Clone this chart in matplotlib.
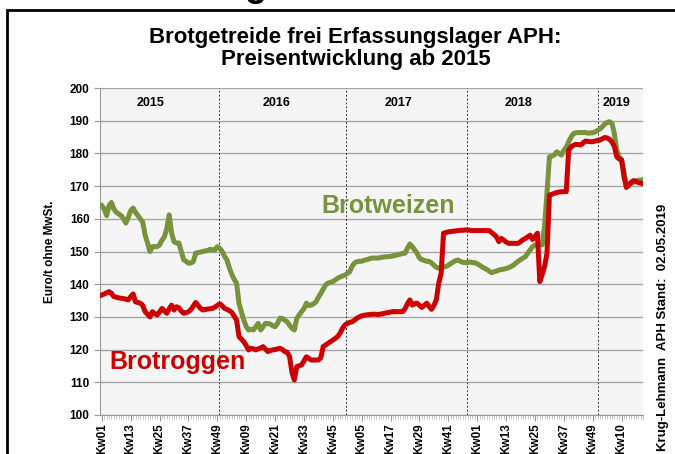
import matplotlib
matplotlib.use("Agg")
import matplotlib.pyplot as plt
from matplotlib.patches import Rectangle

plt.rcParams["font.family"] = ["Liberation Sans", "DejaVu Sans"]

# weekly prices, Euro/t, Kw01 2015 .. Kw17 2019 (index = week counter)
weizen = [
    164, 163, 161, 164, 165, 163, 162, 161.5, 161, 160,
    158.7, 160.5, 162.5, 163.3, 162, 161, 160, 159, 155, 152.6,
    150, 151.5, 151.5, 151.5, 152, 153.5, 154.5, 157, 161.2, 155.6,
    153, 152.6, 152.6, 150, 147.5, 147, 146.4, 146.5, 146.9, 149.5,
    149.7, 149.8, 150, 150.2, 150.3, 150.7, 150.5, 150.5, 151.5, 151,
    150, 148.5, 147.4, 145, 143, 141.5, 140.3, 134.2, 131.5, 129,
    127, 126, 126.2, 126, 127, 128, 126, 127, 128, 128,
    127.8, 127.3, 127, 128, 129.6, 129.5, 129, 128.5, 127.5, 126.5,
    126, 129.5, 130.6, 131.6, 132.5, 134.2, 133.5, 133.6, 134, 134.6,
    136, 137.2, 138.5, 139.8, 140.3, 140.6, 140.8, 141.3, 141.8, 142.2,
    142.5, 142.8, 143.3, 143.8, 145.5, 146.5, 146.9, 147, 147, 147.3,
    147.5, 147.7, 148, 148, 148, 148, 148.2, 148.3, 148.4, 148.4,
    148.5, 148.7, 148.8, 149, 149.2, 149.4, 149.5, 151, 152.3, 151.5,
    150.5, 149.5, 148, 147.5, 147.3, 147, 147, 146.5, 145.8, 145.2,
    144.9, 145, 145.2, 145.4, 145.8, 146.3, 146.8, 147.2, 147.4, 147,
    146.7, 146.6, 146.6, 146.8, 146.6, 146.6, 146.2, 145.8, 145.3, 144.9,
    144.5, 144, 143.5, 143.8, 144, 144.3, 144.5, 144.6, 144.8, 145,
    145.4, 145.8, 146.4, 147, 147.5, 148, 148.4, 149.5, 150.5, 151.5,
    152, 152, 152, 152, 158, 168, 179, 179.2, 179.5, 180.5,
    180, 179.5, 181, 181.8, 183.6, 185, 186.1, 186.3, 186.4, 186.4,
    186.4, 186.4, 186.2, 186.3, 186.3, 186.6, 187, 187.5, 188.2, 189,
    189.5, 189.7, 189.2, 186, 181, 179, 178, 174, 169.8, 170.2,
    170.8, 171.2, 171.6, 171.8, 171.9,
]
roggen = [
    136.7, 137, 137.4, 137.7, 137.2, 136.2, 136, 135.8, 135.7, 135.6,
    135.4, 135.2, 136.2, 137, 134.6, 134.4, 134.2, 133.5, 131.6, 130.8,
    130, 131.6, 131, 130.6, 131.5, 132.6, 131.8, 131.1, 132.5, 133.6,
    132.1, 133.1, 132.8, 131.8, 131.1, 131.3, 131.6, 132.2, 133.3, 134.4,
    133.5, 132.6, 132.1, 132.3, 132.4, 132.5, 132.6, 133, 133.5, 134,
    133.4, 132.6, 132.3, 131.9, 131.4, 130.2, 129, 124, 123.2, 122.4,
    121.2, 119.9, 120.4, 120.2, 119.9, 120.2, 120.5, 120.9, 120.1, 119.4,
    119.7, 119.9, 120, 120.2, 120.4, 120, 119.4, 119.2, 117.9, 113,
    110.7, 114.8, 115, 115.3, 116.5, 117.8, 117.3, 116.8, 116.8, 116.8,
    116.8, 117.5, 120.9, 121.4, 121.9, 122.4, 122.9, 123.4, 124, 125,
    126.5, 127.5, 128, 128.3, 128.5, 129, 129.6, 130, 130.3, 130.5,
    130.6, 130.7, 130.8, 130.8, 130.8, 130.7, 130.9, 131, 131.2, 131.3,
    131.5, 131.6, 131.6, 131.6, 131.6, 131.6, 132.5, 134, 135.2, 133.6,
    134, 134.2, 133.5, 132.9, 133.5, 134.2, 133.2, 132.3, 133.5, 135.2,
    140.3, 143.3, 155.6, 155.8, 156, 156.1, 156.2, 156.3, 156.4, 156.5,
    156.5, 156.6, 156.6, 156.5, 156.4, 156.4, 156.4, 156.4, 156.4, 156.4,
    156.4, 156.4, 155.8, 155.2, 154.5, 153, 154, 153.5, 152.9, 152.5,
    152.5, 152.5, 152.5, 152.5, 153, 153.6, 154, 154.5, 155, 153.7,
    154.5, 155.6, 140.8, 143, 145.4, 149.5, 167.3, 167.5, 167.8, 168,
    168.2, 168.3, 168.3, 168.3, 181, 182, 182.5, 182.8, 182.7, 182.6,
    183.2, 183.8, 183.7, 183.6, 183.6, 183.8, 184, 184.1, 184.5, 184.9,
    184.7, 184.3, 183.5, 182.1, 179, 178.3, 178, 172.9, 169.6, 170.4,
    171.2, 171.7, 171.4, 171.1, 170.9,
]
tick_labels = ["Kw01", "Kw13", "Kw25", "Kw37", "Kw49", "Kw09", "Kw21", "Kw33",
               "Kw45", "Kw05", "Kw17", "Kw29", "Kw41", "Kw01", "Kw13", "Kw25",
               "Kw37", "Kw49", "Kw10"]
years = ["2015", "2016", "2017", "2018", "2019"]
year_label_pos = [20.4, 72.7, 123.4, 173.2, 214]
year_breaks = [48.6, 101.4, 151.6, 206]

green = "#77933C"
red = "#CC0000"

fig = plt.figure(figsize=(6.75, 4.54), dpi=100)
ax = fig.add_axes([0.148, 0.086, 0.805, 0.720])
ax.set_facecolor("#f5f5f5")

weeks = range(len(weizen))
ax.plot(weeks, weizen, color=green, lw=3.6, solid_joinstyle="round", zorder=3)
ax.plot(range(len(roggen)), roggen, color=red, lw=3.6, solid_joinstyle="round", zorder=4)

ax.set_xlim(-0.8, 225)
ax.set_ylim(100, 200)
ax.set_yticks(range(100, 201, 10))
ax.yaxis.grid(True, color="#a6a6a6", lw=1)
ax.set_axisbelow(True)
for xb in year_breaks:
    ax.axvline(xb, color="#333333", lw=0.7, ls=(0, (2, 2)), zorder=2)

ax.set_xticks(range(0, 12 * len(tick_labels), 12))
ax.set_xticklabels(tick_labels, rotation=90, fontweight="bold", fontsize=8.5)
ax.set_xticks(range(0, 226), minor=True)
ax.tick_params(axis="x", which="major", length=4, color="#999999", pad=2)
ax.tick_params(axis="x", which="minor", length=3, color="#bbbbbb", width=0.6)
ax.tick_params(axis="y", length=4, color="#999999", labelsize=8.5)
for lbl in ax.get_yticklabels():
    lbl.set_fontweight("bold")

for s in ["top", "right"]:
    ax.spines[s].set_visible(False)
for s in ["left", "bottom"]:
    ax.spines[s].set_color("#999999")

for yr, xp in zip(years, year_label_pos):
    ax.text(xp, 195.4, yr, ha="center", va="center", fontsize=9, fontweight="bold")

ax.text(118.8, 163.9, "Brotweizen", color=green, fontsize=18, fontweight="bold",
        ha="center", va="center")
ax.text(31.6, 116.2, "Brotroggen", color=red, fontsize=18, fontweight="bold",
        ha="center", va="center")

ax.set_ylabel("Euro/t ohne MwSt.", fontsize=8.5, fontweight="bold", labelpad=10)

fig.text(0.527, 0.893, "Brotgetreide frei Erfassungslager APH:\nPreisentwicklung ab 2015",
         ha="center", va="center", fontsize=16, fontweight="bold", linespacing=1.05)
fig.text(0.982, 0.278, "Krug-Lehmann  APH Stand:  02.05.2019", rotation=90,
         ha="center", va="center", fontsize=9.5, fontweight="bold")

# bottom of a cut-off slide heading above the frame
fig.text(0.378, 1.008, "g", ha="center", va="baseline", fontsize=26, fontweight="bold")

fig.patches.append(Rectangle((0.011, -0.1), 1.2, 1.078, transform=fig.transFigure,
                             fill=False, edgecolor="black", lw=2))

fig.savefig("out.png", dpi=100)
